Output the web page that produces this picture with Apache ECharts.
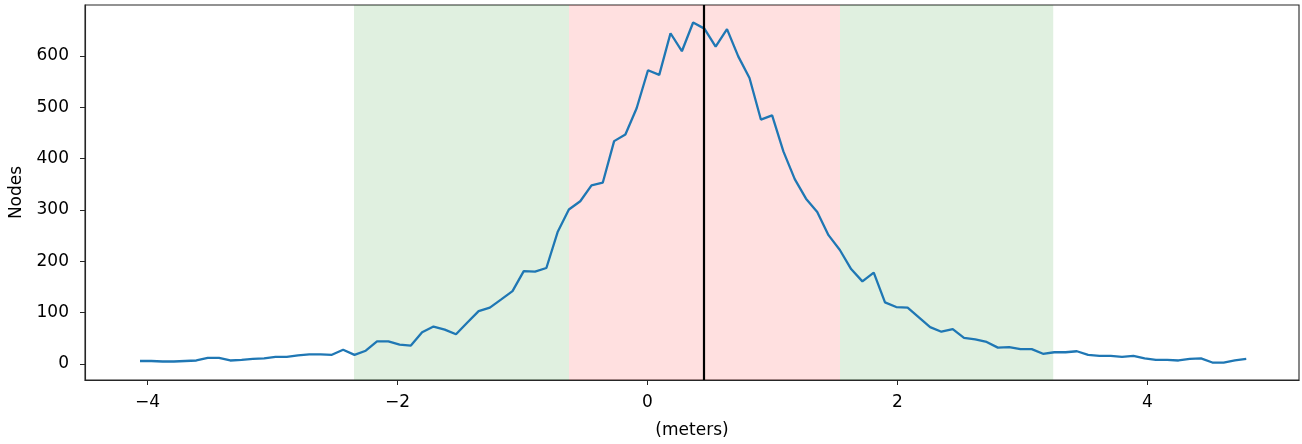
<!DOCTYPE html>
<html>
<head>
<meta charset="utf-8">
<script src="https://cdn.jsdelivr.net/npm/echarts@6/dist/echarts.min.js"></script>
<style>
  html, body { margin: 0; padding: 0; background: #fff; }
  #chart { width: 1302px; height: 444px; }
</style>
</head>
<body>
<div id="chart"></div>
<script>
// Bin positions (meters)
const offsets = [
  -4.060, -3.970, -3.879, -3.789, -3.699, -3.609, -3.518, -3.428, -3.338, -3.247,
  -3.157, -3.067, -2.976, -2.886, -2.796, -2.706, -2.615, -2.525, -2.435, -2.344,
  -2.254, -2.164, -2.073, -1.983, -1.893, -1.803, -1.712, -1.622, -1.532, -1.441,
  -1.351, -1.261, -1.170, -1.080, -0.990, -0.900, -0.809, -0.719, -0.629, -0.538,
  -0.448, -0.358, -0.267, -0.177, -0.087, 0.004, 0.094, 0.184, 0.275, 0.365,
  0.455, 0.545, 0.636, 0.726, 0.816, 0.907, 0.997, 1.087, 1.178, 1.268,
  1.358, 1.448, 1.539, 1.629, 1.719, 1.810, 1.900, 1.990, 2.081, 2.171,
  2.261, 2.351, 2.442, 2.532, 2.622, 2.713, 2.803, 2.893, 2.984, 3.074,
  3.164, 3.254, 3.345, 3.435, 3.525, 3.616, 3.706, 3.796, 3.887, 3.977,
  4.067, 4.157, 4.248, 4.338, 4.428, 4.519, 4.609, 4.699, 4.790
];

// Node counts per bin
const nodes = [
  6, 6, 5, 5, 6, 7, 12, 12, 7, 8,
  10, 11, 14, 14, 17, 19, 19, 18, 28, 18,
  26, 44, 44, 38, 36, 62, 73, 67, 58, 81,
  103, 110, 126, 142, 181, 180, 187, 257, 301, 317,
  348, 353, 434, 447, 498, 572, 563, 644, 609, 665,
  653, 618, 652, 599, 557, 476, 484, 414, 360, 322,
  296, 251, 222, 185, 161, 178, 120, 111, 110, 91,
  72, 63, 68, 51, 48, 43, 32, 33, 29, 29,
  20, 23, 23, 25, 18, 16, 16, 14, 16, 11,
  8, 8, 7, 10, 11, 3, 3, 7, 10
];

// Shaded intervals and the reference line
const outerBand = [-2.348, 3.246];
const innerBand = [-0.628, 1.540];
const centerLine = 0.452;

const xTicks = [-4, -2, 0, 2, 4];
const yTicks = [0, 100, 200, 300, 400, 500, 600];

const minus = v => String(v).replace('-', '\u2212');
const font = 'DejaVu Sans';
const fontSize = 17;

const chart = echarts.init(document.getElementById('chart'), null, { renderer: 'canvas' });

chart.setOption({
  animation: false,
  backgroundColor: '#ffffff',
  grid: {
    left: 85, right: 3, top: 5, bottom: 63,
    show: true, borderColor: '#262626', borderWidth: 1.1, backgroundColor: 'transparent'
  },
  xAxis: {
    type: 'value',
    min: -4.5, max: 5.212,
    name: '(meters)',
    nameLocation: 'middle',
    nameGap: 42,
    nameTextStyle: { fontFamily: font, fontSize: fontSize, color: '#000' },
    splitLine: { show: false },
    axisLine: { show: true, onZero: false, lineStyle: { color: '#262626', width: 1.1 } },
    axisTick: { show: true, customValues: xTicks, length: 5, lineStyle: { color: '#262626', width: 1 } },
    axisLabel: {
      customValues: xTicks, margin: 14,
      fontFamily: font, fontSize: fontSize, color: '#000',
      formatter: v => minus(v)
    }
  },
  yAxis: {
    type: 'value',
    min: -31, max: 699,
    name: 'Nodes',
    nameLocation: 'middle',
    nameRotate: 90,
    nameGap: 60,
    nameTextStyle: { fontFamily: font, fontSize: fontSize, color: '#000' },
    splitLine: { show: false },
    axisLine: { show: true, onZero: false, lineStyle: { color: '#262626', width: 1.1 } },
    axisTick: { show: true, customValues: yTicks, length: 5, lineStyle: { color: '#262626', width: 1 } },
    axisLabel: {
      customValues: yTicks, margin: 16,
      fontFamily: font, fontSize: fontSize, color: '#000',
      formatter: v => minus(v)
    }
  },
  series: [{
    type: 'line',
    data: offsets.map((x, i) => [x, nodes[i]]),
    showSymbol: false,
    lineStyle: { color: '#1f77b4', width: 2.3 },
    z: 3,
    markArea: {
      silent: true,
      data: [
        [{ xAxis: outerBand[0], itemStyle: { color: 'rgba(0,128,0,0.12)' } }, { xAxis: innerBand[0] }],
        [{ xAxis: innerBand[1], itemStyle: { color: 'rgba(0,128,0,0.12)' } }, { xAxis: outerBand[1] }],
        [{ xAxis: innerBand[0], itemStyle: { color: 'rgba(255,0,0,0.12)' } }, { xAxis: innerBand[1] }]
      ]
    },
    markLine: {
      silent: true,
      symbol: 'none',
      label: { show: false },
      lineStyle: { color: '#000', width: 2.2, type: 'solid' },
      data: [{ xAxis: centerLine }]
    }
  }]
});
</script>
</body>
</html>
